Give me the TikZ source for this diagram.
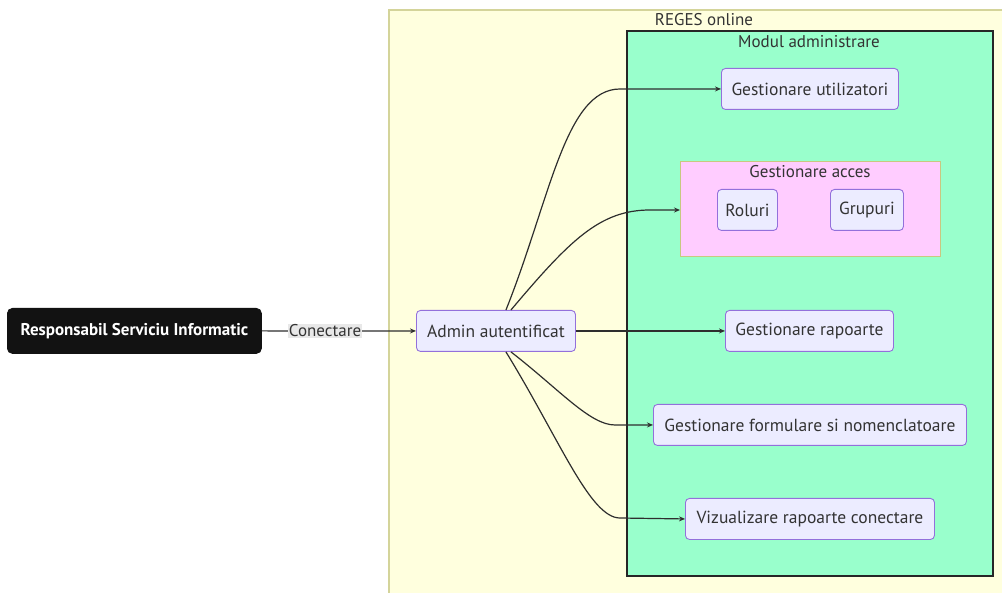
\documentclass[tikz,border=0pt]{standalone}
\usepackage{fontspec}
\setmainfont{PT Sans}
\usetikzlibrary{calc,arrows.meta}
\definecolor{txt}{HTML}{333333}
\definecolor{nodefill}{HTML}{ECECFF}
\definecolor{nodeline}{HTML}{9370DB}
\definecolor{clfill}{HTML}{FFFFDE}
\definecolor{clline}{HTML}{D4D49A}
\definecolor{modfill}{HTML}{99FFCC}
\definecolor{accfill}{HTML}{FFCCFF}
\definecolor{accline}{HTML}{C8C880}
\definecolor{lblbg}{HTML}{E8E8E8}
\tikzset{
  box/.style={draw=nodeline, fill=nodefill, line width=0.9pt, rounded corners=4pt,
    text=txt, font=\fontsize{17.5}{20}\selectfont, inner sep=0pt, anchor=north west},
  flow/.style={draw=txt!90!black, line width=1.2pt, -{Stealth[length=6pt,width=5pt]}},
  cltitle/.style={text=txt, font=\fontsize{17}{20}\selectfont},
}
\begin{document}
\begin{tikzpicture}[x=1pt,y=-1pt]
\useasboundingbox (0,0) rectangle (1002,593);
\clip (0,0) rectangle (1002,593);
\fill[white] (0,0) rectangle (1002,593);

% system boundary
\draw[fill=clfill, draw=clline, line width=1.2pt] (389,10) rectangle (1012,605);
\node[cltitle] (regesT) at (704,20) {REGES online};

% admin module
\draw[fill=modfill, draw=black!85, line width=1.8pt] (627,31) rectangle (993,576);
\node[cltitle] (modT) at (809,42) {Modul administrare};

% access management group
\draw[fill=accfill, draw=accline, line width=1pt] (680,162) rectangle (940,257);
\coordinate (acc) at (680,210);
\node[cltitle] (accT) at (810,172) {Gestionare acces};

% actor
\node[draw=black!93, fill=black!93, rounded corners=5pt, line width=0.8pt,
  minimum width=254pt, minimum height=45pt, inner sep=0pt, anchor=north west,
  text=white, font=\fontsize{17}{20}\selectfont\bfseries] (resp) at (7,308)
  {Responsabil Serviciu Informatic};

\node[box, minimum width=159pt, minimum height=41pt] (admin) at (416,310) {Admin autentificat};
\node[box, minimum width=177pt, minimum height=41pt] (util) at (721,68) {Gestionare utilizatori};
\node[box, minimum width=60pt, minimum height=41pt] (rol) at (717,189) {Roluri};
\node[box, minimum width=73pt, minimum height=41pt] (grup) at (830,189) {Grupuri};
\node[box, minimum width=168pt, minimum height=41pt] (rap) at (725,310) {Gestionare rapoarte};
\node[box, minimum width=313pt, minimum height=41pt] (form) at (653,404) {Gestionare formulare si nomenclatoare};
\node[box, minimum width=249pt, minimum height=41pt] (viz) at (685,498) {Vizualizare rapoarte conectare};

% connectors
\draw[flow] (resp.east) -- node[pos=0.41, fill=lblbg, text=txt, inner sep=1pt,
  font=\fontsize{17}{20}\selectfont] (lbl) {Conectare} (admin.west);
\draw[flow] ($(admin.north)+(10,0)$) .. controls (550,200) and (565,89) .. (620,89) -- (util.west);
\draw[flow] ($(admin.north)+(15,0)$) .. controls (570,240) and (600,210) .. (650,210) -- (acc);
\draw[flow] (admin.east) -- (rap.west);
\draw[flow] ($(admin.south)+(15,0)$) .. controls (560,390) and (590,425) .. (615,425) -- (form.west);
\draw[flow] ($(admin.south)+(10,0)$) .. controls (560,440) and (590,518) .. (620,518) -- (viz.west);
\end{tikzpicture}
\end{document}
